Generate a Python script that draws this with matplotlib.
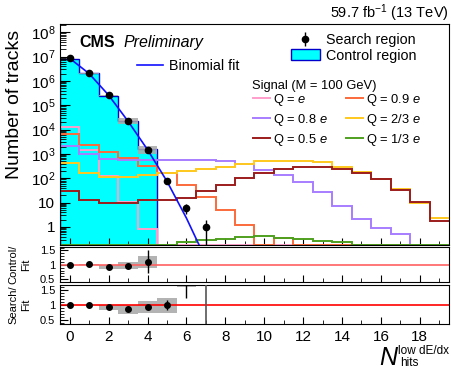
import numpy as np
import matplotlib
matplotlib.use("Agg")
import matplotlib.pyplot as plt
from matplotlib.patches import Patch
from matplotlib.lines import Line2D
from matplotlib.ticker import LogLocator, FuncFormatter, NullFormatter, MultipleLocator, FixedLocator

plt.rcParams['font.family'] = ['Liberation Sans', 'DejaVu Sans']
plt.rcParams['mathtext.fontset'] = 'custom'
plt.rcParams['mathtext.rm'] = 'Liberation Sans'
plt.rcParams['mathtext.it'] = 'Liberation Sans:italic'
plt.rcParams['mathtext.bf'] = 'Liberation Sans:bold'

# ---- data ----
edges = np.arange(-0.5, 20.0, 1.0)   # 20 bins, centres 0..19

search_x = [0, 1, 2, 3, 4, 5, 6, 7]
search_n = [8.5e6, 2.1e6, 2.6e5, 2.2e4, 1.5e3, 78, 6, 1]

control_x = [0, 1, 2, 3, 4]
control_n = [8.0e6, 2.1e6, 2.5e5, 2.3e4, 1.6e3]
control_relunc = [0.03, 0.04, 0.08, 0.25, 0.35]

fit_x = [0, 1, 2, 3, 4, 5, 6, 7]
fit_y = [8.5e6, 2.0e6, 2.6e5, 2.2e4, 1.5e3, 75, 2.3, 0.046]

sig_q10 = [1.3e4, 1.5e3, 120, 11, 0.83, 0, 0, 0, 0, 0, 0, 0, 0, 0, 0, 0, 0, 0, 0, 0]
sig_q09 = [6.8e3, 2.3e3, 1.2e3, 670, 330, 162, 54, 17, 5, 1.2, 0, 0.34, 0, 0, 0, 0, 0, 0, 0, 0]
sig_q08 = [2.2e3, 1.0e3, 610, 570, 570, 570, 570, 570, 490, 390, 222, 130, 69, 26, 7.3, 2.1, 0.93, 0.5, 0, 0]
sig_q23 = [420, 162, 117, 117, 130, 162, 190, 237, 300, 375, 490, 535, 530, 445, 300, 178, 95, 36, 10, 2.4]
sig_q05 = [31, 13, 9.4, 9.4, 12.6, 13, 16, 30, 54, 100, 162, 245, 300, 300, 245, 170, 92, 33, 11, 1.8]
sig_q13 = [0, 0, 0, 0, 0, 0, 0.23, 0.28, 0.33, 0.38, 0.42, 0.36, 0.31, 0.27, 0.23, 0, 0, 0, 0, 0]

# control / fit ratio
cr_ratio = [1.0, 1.02, 0.94, 0.96, 1.11]
cr_err = [0.01, 0.01, 0.02, 0.03, 0.4]
cr_band = [0.01, 0.015, 0.07, 0.12, 0.21]

# search / fit ratio
sr_x = [0, 1, 2, 3, 4, 5, 6]
sr_ratio = [1.0, 1.0, 0.93, 0.87, 0.93, 1.0, 2.6]
sr_err_lo = [0.01, 0.01, 0.02, 0.02, 0.04, 0.16, 1.35]
sr_err_hi = [0.01, 0.01, 0.02, 0.02, 0.04, 0.16, 1.0]
sr_band = [0.01, 0.01, 0.085, 0.15, 0.2, 0.25, 1.0]
sr_last_x = [7]
sr_last = [22.0]

signals = [
    (sig_q10, '#ff9ecb', 'Q = $e$'),
    (sig_q09, '#fb6a3a', 'Q = 0.9 $e$'),
    (sig_q08, '#a77dff', 'Q = 0.8 $e$'),
    (sig_q23, '#ffc81e', 'Q = 2/3 $e$'),
    (sig_q05, '#9c1c1c', 'Q = 0.5 $e$'),
    (sig_q13, '#4fa01f', 'Q = 1/3 $e$'),
]

ymin, ymax = 0.18, 2.2e8
W, H = 452, 370

fig = plt.figure(figsize=(W / 100, H / 100), dpi=100)

def px_axes(x0, y0, x1, y1):
    return fig.add_axes([x0 / W, 1 - y1 / H, (x1 - x0) / W, (y1 - y0) / H])

ax = px_axes(60, 24, 449, 245)
ax1 = px_axes(60, 247, 449, 282)
ax2 = px_axes(60, 285, 449, 324)

# ---- main panel ----
ax.stairs(control_n, edges[:len(control_n) + 1], baseline=1e-3, fill=True,
          color='#00ffff', zorder=1)
ax.stairs(control_n, edges[:len(control_n) + 1], baseline=1e-3,
          color='#0000cc', lw=1.0, zorder=1.2)
cn = np.array(control_n)
cu = np.array(control_relunc)
ax.bar(control_x, 2 * cu * cn, bottom=cn * (1 - cu), width=1.0,
       color='#aaaaaa', alpha=0.85, lw=0, zorder=1.5)

for vals, col, lab in signals:
    v = np.clip(np.array(vals, float), ymin * 1.02, None)
    ax.stairs(v, edges, baseline=None, color=col, lw=1.4, zorder=2)

ax.plot(fit_x, fit_y, color='#1010ff', lw=1.2, zorder=3)

sn = np.array(search_n)
lo = np.minimum(np.sqrt(sn), sn * 0.999)
eb = ax.errorbar(search_x, sn, yerr=[lo, np.sqrt(sn)], fmt='o', color='black',
                 ms=4.5, elinewidth=1.0, capsize=0, zorder=4)

ax.set_yscale('log')
ax.set_ylim(ymin, ymax)
ax.set_xlim(-0.5, 19.5)
ax.yaxis.set_major_locator(FixedLocator([10.0 ** k for k in range(0, 9)]))
ax.yaxis.set_minor_locator(LogLocator(base=10, subs=np.arange(2, 10), numticks=20))
ax.yaxis.set_minor_formatter(NullFormatter())

def log_fmt(v, pos):
    k = int(round(np.log10(v)))
    if k == 0:
        return '1'
    if k == 1:
        return '10'
    return '$10^{%d}$' % k

ax.yaxis.set_major_formatter(FuncFormatter(log_fmt))
ax.tick_params(axis='y', which='major', direction='in', length=7, labelsize=11)
ax.tick_params(axis='y', which='minor', direction='in', length=4)
for a in (ax, ax1, ax2):
    a.xaxis.set_major_locator(MultipleLocator(2))
    a.xaxis.set_minor_locator(MultipleLocator(1))
    a.tick_params(axis='x', which='major', direction='in', length=5)
    a.tick_params(axis='x', which='minor', direction='in', length=3)
    a.set_xlim(-0.5, 19.5)
ax.tick_params(axis='x', labelbottom=False)
ax1.tick_params(axis='x', labelbottom=False)
ax2.tick_params(axis='x', labelsize=11, pad=4)

ax.set_ylabel('Number of tracks', fontsize=14, loc='top')
ax.yaxis.set_label_coords(-0.095, 0.975)

ax.text(0.049, 0.895, 'CMS', transform=ax.transAxes, fontsize=11.5,
        fontweight='bold', va='baseline')
ax.text(0.162, 0.895, 'Preliminary', transform=ax.transAxes, fontsize=11.5,
        style='italic', va='baseline')
fig.text(449 / W, 1 - 18 / H, '59.7 fb$^{-1}$ (13 TeV)', ha='right',
         va='baseline', fontsize=10.5)

# legends
ctrl_patch = Patch(facecolor='#00ffff', edgecolor='#0000cc', lw=1.0)
leg1 = ax.legend([eb, ctrl_patch], ['Search region', 'Control region'],
                 loc='upper left', bbox_to_anchor=((291 - 60) / 389, (245 - 33) / 221),
                 frameon=False, fontsize=10.3, handlelength=2.0, handletextpad=0.45,
                 borderpad=0, borderaxespad=0, labelspacing=0.12, handleheight=0.8)
ax.add_artist(leg1)
leg2 = ax.legend([Line2D([], [], color='#1010ff', lw=1.2)], ['Binomial fit'],
                 loc='upper left', bbox_to_anchor=((137 - 60) / 389, (245 - 59) / 221),
                 frameon=False, fontsize=10.3, handlelength=1.8, handletextpad=0.45,
                 borderpad=0, borderaxespad=0)
ax.add_artist(leg2)
ax.text((252 - 60) / 389, (245 - 86) / 221, 'Signal (M = 100 GeV)',
        transform=ax.transAxes, fontsize=9.3, va='center')
order = [0, 2, 4, 1, 3, 5]
sig_handles = [Line2D([], [], color=signals[i][1], lw=1.4) for i in order]
sig_labels = [signals[i][2] for i in order]
ax.legend(sig_handles, sig_labels, ncol=2, loc='upper left',
          bbox_to_anchor=((253 - 60) / 389, (245 - 92) / 221),
          frameon=False, fontsize=9.3, handlelength=1.3, handletextpad=0.25,
          columnspacing=1.4, borderpad=0, borderaxespad=0, labelspacing=0.3)

# ---- ratio panels ----
ax1.bar(control_x, 2 * np.array(cr_band), bottom=np.array(cr_ratio) - np.array(cr_band),
        width=1.0, color='#b3b3b3', lw=0, zorder=1)
ax1.axhline(1.0, color='#ff6060', lw=1.2, zorder=2)
ax1.errorbar(control_x, cr_ratio, yerr=cr_err, fmt='o', color='black', ms=4,
             elinewidth=1.0, capsize=0, zorder=3)
ax1.set_ylim(0.4, 1.62)

ax2.bar(sr_x, 2 * np.array(sr_band), bottom=np.array(sr_ratio) - np.array(sr_band),
        width=1.0, color='#b3b3b3', lw=0, zorder=1)
ax2.axhline(1.0, color='#ff0000', lw=1.2, zorder=2)
ax2.errorbar(sr_x, sr_ratio, yerr=[sr_err_lo, sr_err_hi], fmt='o', color='black',
             ms=4, elinewidth=1.0, capsize=0, zorder=3)
ax2.errorbar(sr_last_x, sr_last, yerr=sr_last, fmt='none', ecolor='#555555',
             elinewidth=1.2, capsize=0, zorder=3)
ax2.set_ylim(0.37, 1.67)

for a in (ax1, ax2):
    a.yaxis.set_major_locator(FixedLocator([0.5, 1.0, 1.5]))
    a.yaxis.set_minor_locator(MultipleLocator(0.1))
    a.yaxis.set_major_formatter(FuncFormatter(lambda v, p: ('%g' % v)))
    a.tick_params(axis='y', which='major', direction='in', length=6, labelsize=8)
    a.tick_params(axis='y', which='minor', direction='in', length=3)

ax1.set_ylabel('Control/\nFit', fontsize=8, linespacing=1.3)
ax2.set_ylabel('Search/\nFit', fontsize=8, linespacing=1.3)
ax1.yaxis.set_label_coords(-0.075, 0.5)
ax2.yaxis.set_label_coords(-0.075, 0.5)

# x title
fig.text(397 / W, 1 - 365 / H, 'N', ha='right', va='baseline', fontsize=18, style='italic')
fig.text(449 / W, 1 - 353.5 / H, 'low dE/dx', ha='right', va='baseline', fontsize=8.5)
fig.text(400 / W, 1 - 366.5 / H, 'hits', ha='left', va='baseline', fontsize=8.5)

fig.savefig('out.png', dpi=100)
